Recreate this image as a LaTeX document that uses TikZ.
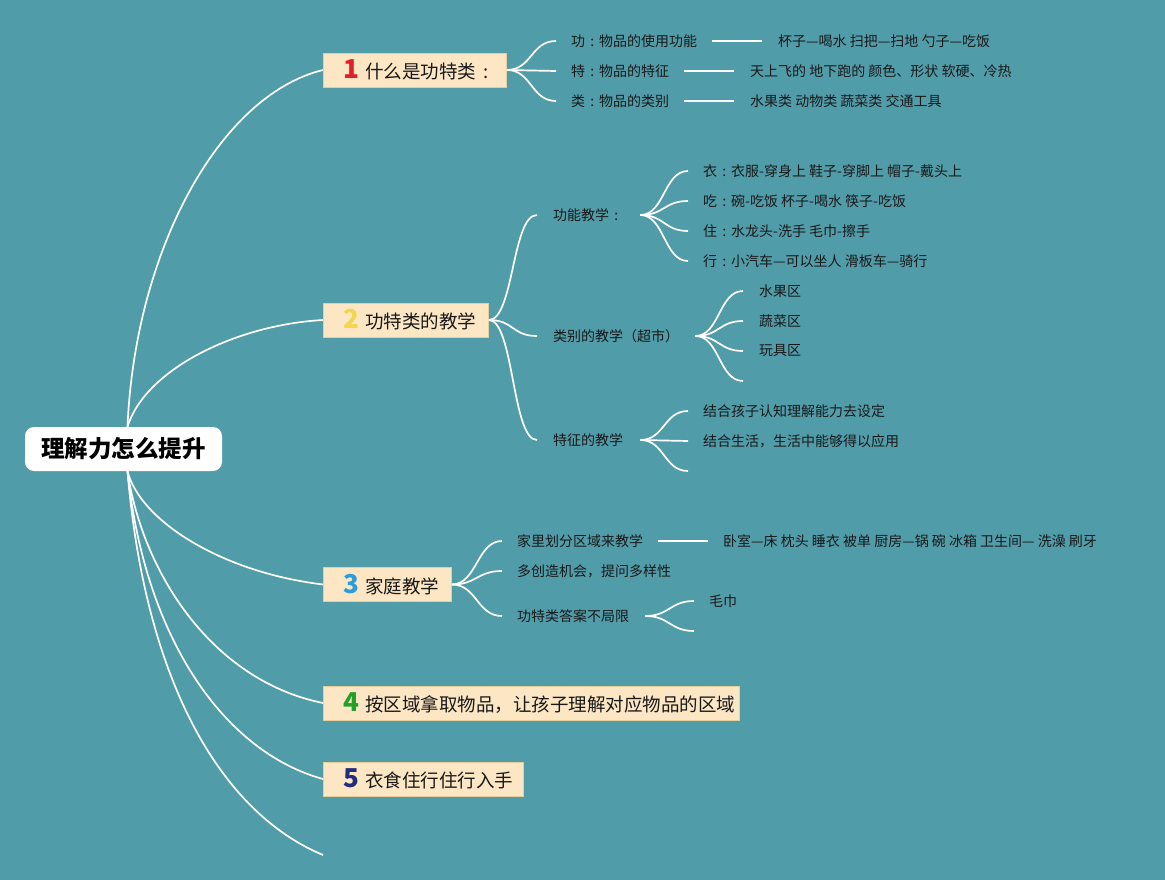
\documentclass[tikz,border=0pt]{standalone}
\usepackage{fontspec}
\setmainfont{Noto Sans CJK SC}
\definecolor{bgc}{HTML}{519CA9}
\definecolor{boxfill}{HTML}{FCE6C3}
\definecolor{boxline}{HTML}{E9CD98}
\definecolor{nred}{HTML}{E21F2A}
\definecolor{nyel}{HTML}{F3D64E}
\definecolor{nblue}{HTML}{2C9CDB}
\definecolor{ngreen}{HTML}{22A02A}
\definecolor{nnavy}{HTML}{222E7C}
\newcommand{\topicbox}[4]{\makebox[#4][l]{\hspace{17pt}\makebox[22pt][c]{\fontsize{26pt}{28pt}\selectfont\bfseries\color{#1}#2}\hspace{3pt}#3}}
\newcommand{\cln}{\makebox[1em][c]{:}}
\begin{document}
\begin{tikzpicture}[x=1pt,y=-1pt,
  br/.style={draw=white, line width=1.7pt},
  rootbox/.style={fill=white, rounded corners=9pt, minimum width=197pt, minimum height=44pt, inner sep=0pt, font=\fontsize{23.5pt}{26pt}\selectfont\bfseries, text=black},
  topic/.style={anchor=west, fill=boxfill, draw=boxline, line width=0.8pt, minimum height=34pt, inner xsep=0pt, inner ysep=0pt, font=\fontsize{18.5pt}{20pt}\selectfont, text=black!90},
  lab/.style={anchor=west, inner sep=0pt, font=\fontsize{14pt}{16pt}\selectfont, text=black!90}]
\fill[bgc] (0,0) rectangle (1165,880);
% root
\node[rootbox] (root) at (123.5,449) {理解力怎么提升};
\coordinate (rtop) at ([xshift=4pt]root.north);
\coordinate (rbot) at ([xshift=4pt]root.south);
% topics
\node[topic] (t1) at (323,70) {\topicbox{nred}{1}{什么是功特类\makebox[1em][c]{:}}{183pt}};
\node[topic] (t2) at (323,320) {\topicbox{nyel}{2}{功特类的教学}{165pt}};
\node[topic] (t3) at (323,584.5) {\topicbox{nblue}{3}{家庭教学}{128pt}};
\node[topic] (t4) at (323,703) {\topicbox{ngreen}{4}{按区域拿取物品，让孩子理解对应物品的区域}{416pt}};
\node[topic] (t5) at (323,779) {\topicbox{nnavy}{5}{衣食住行住行入手}{200pt}};
\coordinate (t6) at (323,855);
% main branches
\draw[br] (rtop) .. controls (135,250) and (220,95) .. (t1.west);
\draw[br] (rtop) .. controls (145,370) and (235,325) .. (t2.west);
\draw[br] (rbot) .. controls (140,520) and (220,572) .. (t3.west);
\draw[br] (rbot) .. controls (142,570) and (210,680) .. (t4.west);
\draw[br] (rbot) .. controls (145,640) and (225,752) .. (t5.west);
\draw[br] (rbot) .. controls (145,680) and (220,812) .. (t6);
% topic 1 children
\node[lab] (c11) at (571,41) {功\cln 物品的使用功能};
\node[lab] (c12) at (571,71) {特\cln 物品的特征};
\node[lab] (c13) at (571,101) {类\cln 物品的类别};
\node[lab] (d11) at (778,41) {杯子—喝水 扫把—扫地 勺子—吃饭};
\node[lab] (d12) at (750,71) {天上飞的 地下跑的 颜色、形状 软硬、冷热};
\node[lab] (d13) at (750,101) {水果类 动物类 蔬菜类 交通工具};
\foreach \c in {c11,c12,c13}
  \draw[br] (t1.east) .. controls +(25,0) and +(-25,0) .. ([xshift=-15pt]\c.west);
\draw[br] ([xshift=15pt]c11.east) -- ([xshift=-16pt]d11.west);
\draw[br] ([xshift=15pt]c12.east) -- ([xshift=-16pt]d12.west);
\draw[br] ([xshift=15pt]c13.east) -- ([xshift=-16pt]d13.west);
% topic 2 children
\node[lab] (c21) at (553,215) {功能教学\cln};
\node[lab] (c22) at (553,336) {类别的教学（超市）};
\node[lab] (c23) at (553,440) {特征的教学};
\foreach \c in {c21,c22,c23}
  \draw[br] (t2.east) .. controls +(25,0) and +(-25,0) .. ([xshift=-16pt]\c.west);
\node[lab] (e1) at (703,171) {衣\cln 衣服-穿身上 鞋子-穿脚上 帽子-戴头上};
\node[lab] (e2) at (703,201) {吃\cln 碗-吃饭 杯子-喝水 筷子-吃饭};
\node[lab] (e3) at (703,231) {住\cln 水龙头-洗手 毛巾-擦手};
\node[lab] (e4) at (703,261) {行\cln 小汽车—可以坐人 滑板车—骑行};
\coordinate (o21) at ([xshift=17pt]c21.east);
\foreach \c in {e1,e2,e3,e4}
  \draw[br] (o21) .. controls +(24,0) and +(-24,0) .. ([xshift=-15pt]\c.west);
\node[lab] (f1) at (759,291) {水果区};
\node[lab] (f2) at (759,321) {蔬菜区};
\node[lab] (f3) at (759,351) {玩具区};
\coordinate (f4) at (743,381);
\coordinate (o22) at ([xshift=16pt]c22.east);
\foreach \c in {f1,f2,f3}
  \draw[br] (o22) .. controls +(24,0) and +(-24,0) .. ([xshift=-16pt]\c.west);
\draw[br] (o22) .. controls +(24,0) and +(-24,0) .. (f4);
\node[lab] (g1) at (703,411) {结合孩子认知理解能力去设定};
\node[lab] (g2) at (703,441) {结合生活，生活中能够得以应用};
\coordinate (g3) at (688,471);
\coordinate (o23) at ([xshift=17pt]c23.east);
\foreach \c in {g1,g2}
  \draw[br] (o23) .. controls +(24,0) and +(-24,0) .. ([xshift=-15pt]\c.west);
\draw[br] (o23) .. controls +(24,0) and +(-24,0) .. (g3);
% topic 3 children
\node[lab] (c31) at (517,541) {家里划分区域来教学};
\node[lab] (c32) at (517,571) {多创造机会，提问多样性};
\node[lab] (c33) at (517,616) {功特类答案不局限};
\foreach \c in {c31,c32,c33}
  \draw[br] (t3.east) .. controls +(25,0) and +(-25,0) .. ([xshift=-15pt]\c.west);
\node[lab] (d31) at (723,541) {卧室—床 枕头 睡衣 被单 厨房—锅 碗 冰箱 卫生间— 洗澡 刷牙};
\draw[br] ([xshift=15pt]c31.east) -- ([xshift=-15pt]d31.west);
\node[lab] (h1) at (709,601) {毛巾};
\coordinate (h2) at (694,631);
\coordinate (o33) at ([xshift=16pt]c33.east);
\draw[br] (o33) .. controls +(24,0) and +(-24,0) .. ([xshift=-15pt]h1.west);
\draw[br] (o33) .. controls +(24,0) and +(-24,0) .. (h2);
\end{tikzpicture}
\end{document}
